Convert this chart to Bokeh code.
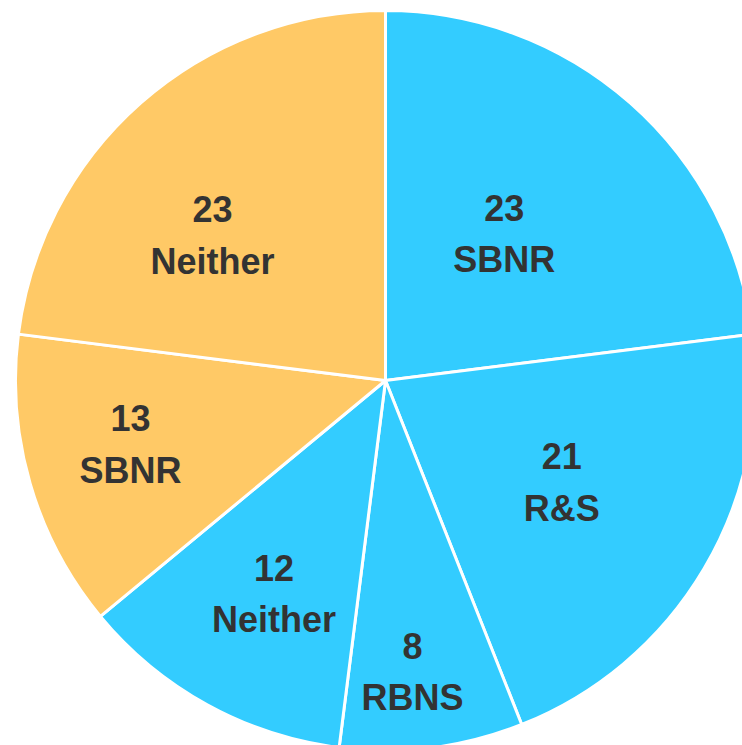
import math
from bokeh.plotting import figure
from bokeh.models import Range1d, ColumnDataSource
from bokeh.core.properties import value
from bokeh.embed import file_html
from bokeh.resources import INLINE

# Data (clockwise from 12 o'clock)
values = [23, 21, 8, 12, 13, 23]
labels = ["SBNR", "R&S", "RBNS", "Neither", "SBNR", "Neither"]
colors = ["#33CCFF", "#33CCFF", "#33CCFF", "#33CCFF", "#FFC966", "#FFC966"]

# layout parameters (label placement along slice bisector, fraction of radius)
label_r = [0.51, 0.55, 0.79, 0.65, 0.71, 0.61]
label_da = [2.4, 0.6, -1.9, 1.2, -2.2, 8.6]  # degrees adjustment

R = 370.0
total = sum(values)
starts, ends, nx, ny, lx, ly, nums = [], [], [], [], [], [], []
a = 90.0
for i, v in enumerate(values):
    sweep = v / total * 360.0
    b = a - sweep
    starts.append(math.radians(b))
    ends.append(math.radians(a))
    mid = math.radians((a + b) / 2 + label_da[i])
    cx = label_r[i] * R * math.cos(mid)
    cy = label_r[i] * R * math.sin(mid)
    nx.append(cx); ny.append(cy + 26)
    lx.append(cx); ly.append(cy - 26)
    nums.append(str(v))
    a = b

W, H = 742, 745
p = figure(width=W, height=H, output_backend="svg", toolbar_location=None,
           x_range=Range1d(-385, W - 385), y_range=Range1d(380 - H, 380),
           min_border=0, min_border_left=0, min_border_right=0,
           min_border_top=0, min_border_bottom=0)
p.axis.visible = False
p.grid.visible = False
p.outline_line_color = None
p.background_fill_color = "white"
p.border_fill_color = "white"

src = ColumnDataSource(dict(start=starts, end=ends, color=colors))
p.wedge(x=0, y=0, radius=R, start_angle="start", end_angle="end",
        fill_color="color", line_color="white", line_width=3, source=src)

p.text(x=nx, y=ny, text=nums, text_align="center", text_baseline="middle",
       text_font=value("Liberation Sans"), text_font_style="bold",
       text_font_size="36px", text_color="#333333")
p.text(x=lx, y=ly, text=labels, text_align="center", text_baseline="middle",
       text_font=value("Liberation Sans"), text_font_style="bold",
       text_font_size="36px", text_color="#333333")

open("out.html", "w").write(file_html(p, INLINE))
